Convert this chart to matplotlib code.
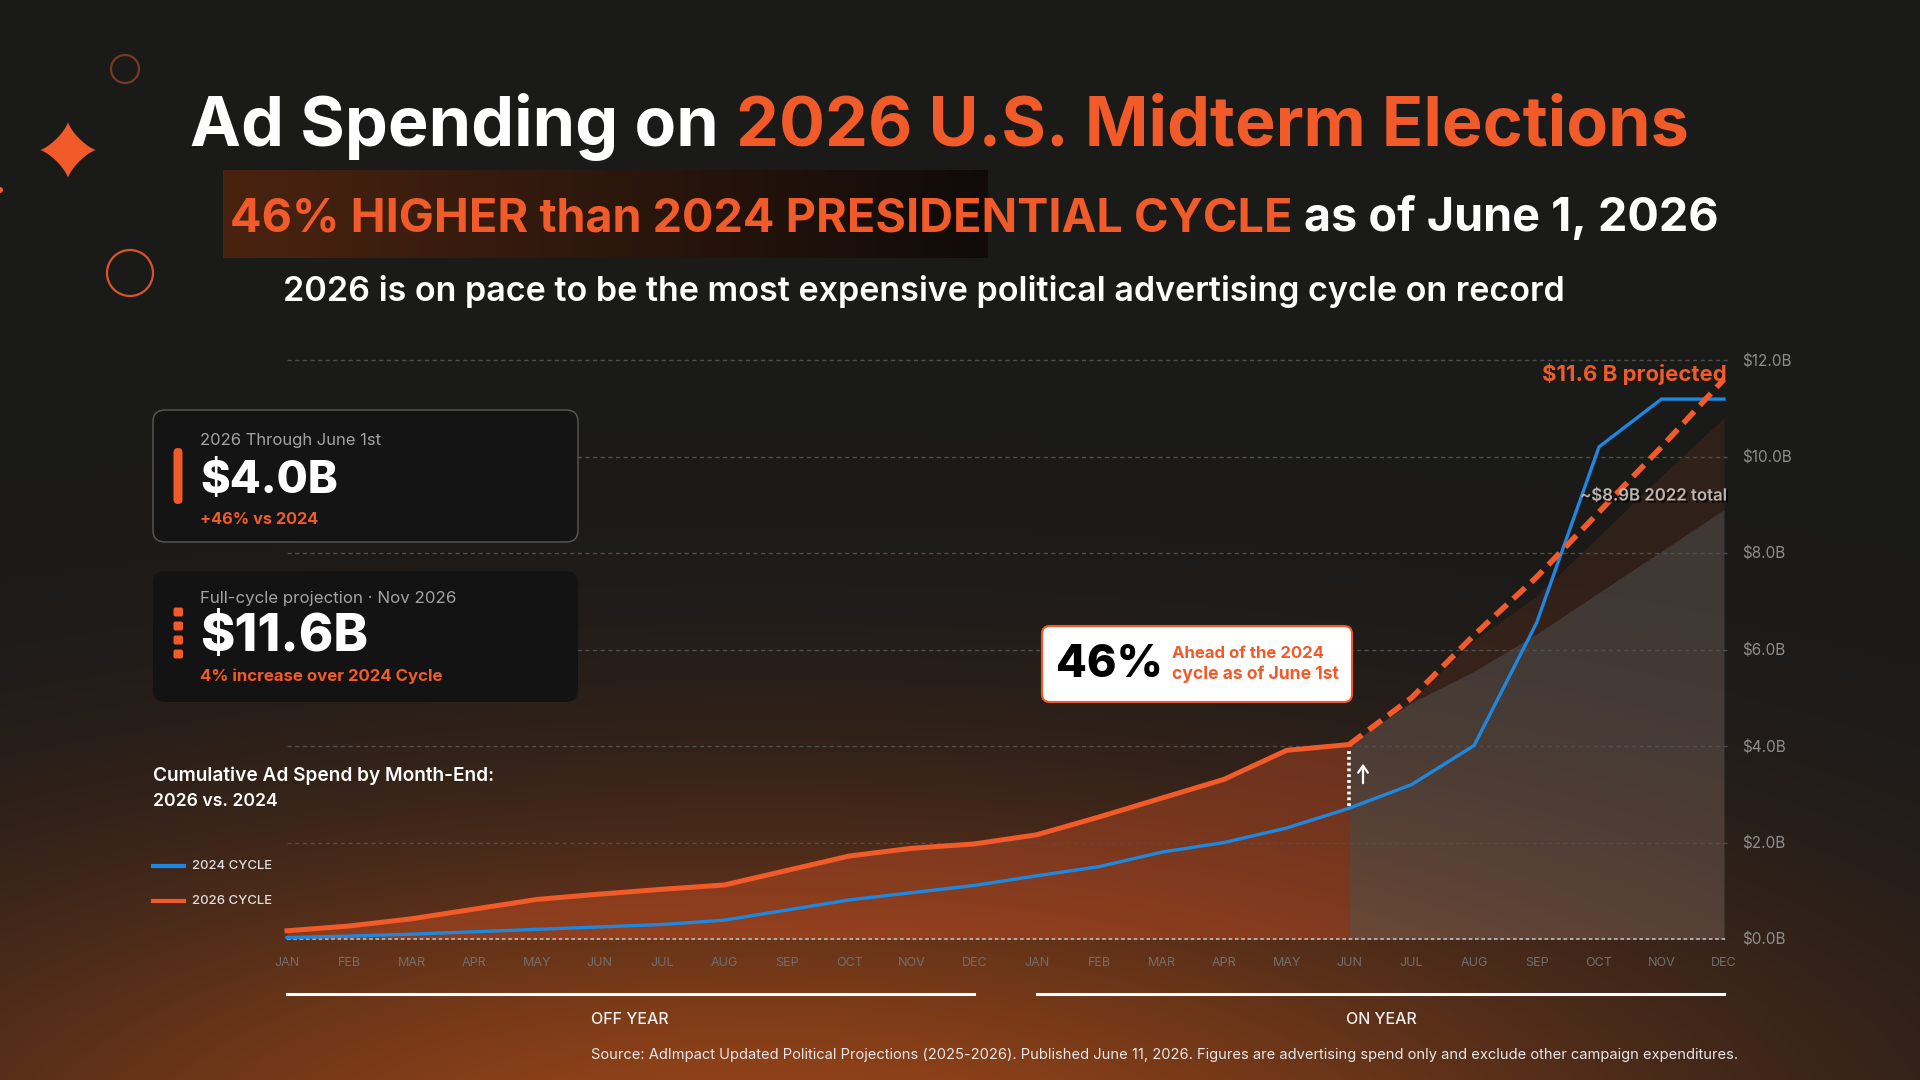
import numpy as np
import matplotlib
matplotlib.use('Agg')
import matplotlib.pyplot as plt
import matplotlib.patheffects as pe
from matplotlib.patches import FancyBboxPatch, Circle, Polygon

plt.rcParams['font.family'] = ['Inter', 'DejaVu Sans']

ORANGE = '#f15a29'
BLUE = '#1e88e0'

months = ['JAN', 'FEB', 'MAR', 'APR', 'MAY', 'JUN',
          'JUL', 'AUG', 'SEP', 'OCT', 'NOV', 'DEC'] * 2

# cumulative ad spend ($B) by month-end, Jan of off-year .. Dec of election year
cycle_2024 = [0.03, 0.06, 0.10, 0.15, 0.20, 0.25, 0.30, 0.39, 0.60, 0.81, 0.96, 1.11,
              1.31, 1.50, 1.80, 2.00, 2.30, 2.71, 3.20, 4.01, 6.55, 10.2, 11.19, 11.19]
# 2026 cycle actuals, Jan 2025 .. Jun 2026
cycle_2026 = [0.17, 0.27, 0.42, 0.62, 0.82, 0.93, 1.03, 1.12, 1.42, 1.72, 1.88, 1.97,
              2.16, 2.53, 2.92, 3.31, 3.91, 4.03]
# projection Jun .. Dec 2026
proj_2026 = [4.03, 5.0, 6.3, 7.5, 8.85, 10.2, 11.6]
band_low = [4.03, 4.9, 5.55, 6.32, 7.18, 8.04, 8.9]
band_high = [4.03, 4.95, 6.2, 7.1, 8.35, 9.6, 10.8]

yticks = [0, 2, 4, 6, 8, 10, 12]
ylabels = ['$%.1fB' % v for v in yticks]

W, H = 1920, 1080
fig = plt.figure(figsize=(19.2, 10.8), dpi=100)

# background with warm glow at the bottom
bg = fig.add_axes([0, 0, 1, 1], zorder=0)
yy, xx = np.mgrid[0:H, 0:W]
glow_w = np.exp(-(((xx - 760) / 950.0) ** 2 + ((yy - 1160) / 330.0) ** 2))[..., None]
base = np.array([26, 26, 26]) / 255.0
glow = np.array([150, 68, 24]) / 255.0
img = base * (1 - glow_w) + glow * glow_w
bg.imshow(img, extent=(0, W, H, 0), aspect='auto')
bg.axis('off')

# chart
ax = fig.add_axes([287 / W, 1 - 939 / H, (1724 - 287) / W, (939 - 360) / H], zorder=1)
ax.patch.set_alpha(0)
ax.set_xlim(0, 23)
ax.set_ylim(0, 12)
x = np.arange(24)
x26 = np.arange(len(cycle_2026))
xp = np.arange(17, 24)

ax.fill_between(x26, 0, cycle_2026, color=ORANGE, alpha=0.32, lw=0, zorder=1)
ax.fill_between(xp, 0, band_low, color='#ffd9c8', alpha=0.16, lw=0, zorder=1)
ax.fill_between(xp, band_low, band_high, color=ORANGE, alpha=0.1, lw=0, zorder=1)

for v in yticks[1:]:
    ax.hlines(v, 0, 23.05, color='#4e4e4e', lw=1, linestyles=(0, (3, 2.5)), zorder=2, clip_on=False)
ax.hlines(0, 0, 23.05, color='#b5b5b5', lw=1.3, linestyles=(0, (2, 1.5)), zorder=2, clip_on=False)

ax.plot(x, cycle_2024, color=BLUE, lw=2.4, zorder=4, clip_on=False)
ax.plot(x26, cycle_2026, color=ORANGE, lw=3.6, zorder=5, clip_on=False)
ax.plot(xp, proj_2026, color=ORANGE, lw=4, dashes=(2.9, 1.5), zorder=5, clip_on=False)
ax.plot([17, 17], [cycle_2024[17] + 0.05, cycle_2026[17] - 0.1], color='white', lw=2.6,
        dashes=(0.8, 0.8), zorder=6)

ax.set_xticks(x)
ax.set_xticklabels(months)
ax.tick_params(axis='x', length=0, pad=13, labelsize=9, labelcolor='#707070')
ax.yaxis.tick_right()
ax.set_yticks(yticks)
ax.set_yticklabels(ylabels)
ax.tick_params(axis='y', length=0, pad=13, labelsize=11, labelcolor='#8e8e8e')
for s in ax.spines.values():
    s.set_visible(False)

# overlay in pixel coordinates
ov = fig.add_axes([0, 0, 1, 1], zorder=3)
ov.axis('off')
renderer = fig.canvas.get_renderer()


def text_width(s, size, weight):
    t = ov.text(0, 0, s, fontsize=size, fontweight=weight)
    w = t.get_window_extent(renderer).width
    t.remove()
    return w


def row(x0, y0, parts, width, weight='bold', ha='left', size=20, **kw):
    gap = text_width('x x', size, weight) - text_width('xx', size, weight)
    widths = [text_width(s, size, weight) for s, c in parts]
    total = sum(widths) + gap * (len(parts) - 1)
    k = width / total
    cx = x0 - {'left': 0, 'center': width / 2, 'right': width}[ha]
    out = []
    for (s, c), w in zip(parts, widths):
        out.append(ov.text(cx, y0, s, color=c, fontsize=size * k, fontweight=weight,
                           va='center', ha='left', **kw))
        cx += (w + gap) * k
    return out


# subtitle highlight box
grad = np.linspace([74, 35, 16], [16, 11, 9], 256)[None, :, :] / 255.0
ov.imshow(grad, extent=(223, 988, 258, 170), aspect='auto', zorder=1)

# decorations
ov.add_patch(Circle((125, 69), 14, fill=False, ec='#7a3a22', lw=1.6))
ov.add_patch(Circle((130, 273), 23, fill=False, ec='#d9542a', lw=1.6))
ov.add_patch(Circle((0, 190), 3, fc=ORANGE, ec='none'))
t = np.linspace(0, 2 * np.pi, 200)
c, s = np.cos(t), np.sin(t)
star = np.column_stack([68 + 28 * np.sign(c) * np.abs(c) ** 2.6,
                        150 + 28 * np.sign(s) * np.abs(s) ** 2.6])
ov.add_patch(Polygon(star, closed=True, fc=ORANGE, ec='none'))

# headings
row(190, 127, [('Ad Spending on', 'white'), ('2026 U.S. Midterm Elections', ORANGE)], 1500)
row(230, 219, [('46% HIGHER than 2024 PRESIDENTIAL CYCLE', ORANGE),
               ('as of June 1, 2026', 'white')], 1490)
row(283, 292, [('2026 is on pace to be the most expensive political advertising cycle on record',
                'white')], 1286, weight='semibold')

# cards
ov.add_patch(FancyBboxPatch((153, 410), 425, 132, boxstyle='round,pad=0,rounding_size=12',
                            fc='#141414', ec='#5a5a5a', lw=1, zorder=2))
ov.add_patch(FancyBboxPatch((153, 571), 425, 131, boxstyle='round,pad=0,rounding_size=12',
                            fc='#131313', ec='none', zorder=2))
ov.add_patch(FancyBboxPatch((173.5, 448), 9, 56, boxstyle='round,pad=0,rounding_size=4.5',
                            fc=ORANGE, ec='none', zorder=3))
for cy in [612, 626, 640, 654]:
    ov.add_patch(FancyBboxPatch((173.5, cy - 4.5), 9.5, 9, boxstyle='round,pad=0,rounding_size=2',
                                fc=ORANGE, ec='none', zorder=3))

row(200, 440, [('2026 Through June 1st', '#a3a3a3')], 182, weight='normal', zorder=4)
row(200, 481, [('$4.0B', 'white')], 138, weight='heavy', zorder=4)
row(200, 519, [('+46% vs 2024', ORANGE)], 118, zorder=4)
row(200, 599, [('Full-cycle projection · Nov 2026', '#a3a3a3')], 257, weight='normal', zorder=4)
row(200, 638, [('$11.6B', 'white')], 168, weight='heavy', zorder=4)
row(200, 676, [('4% increase over 2024 Cycle', ORANGE)], 244, zorder=4)

# callout
ov.add_patch(FancyBboxPatch((1042, 626), 310, 76, boxstyle='round,pad=0,rounding_size=8',
                            fc='white', ec=ORANGE, lw=1.5, zorder=2))
row(1056, 665, [('46%', 'black')], 107, weight='heavy', zorder=4)
row(1172, 654, [('Ahead of the 2024', ORANGE)], 153, zorder=4)
row(1172, 674, [('cycle as of June 1st', ORANGE)], 167, zorder=4)
ov.annotate('', xy=(1363, 761), xytext=(1363, 786),
            arrowprops=dict(arrowstyle='->,head_length=0.5,head_width=0.35', color='white', lw=1.6))

# chart notes
row(1727, 374, [('$11.6 B projected', ORANGE)], 185, ha='right')
row(1727, 496, [('~$8.9B 2022 total', '#bdb5b0')], 147, weight='semibold', ha='right',
    path_effects=[pe.withSimplePatchShadow(offset=(1.5, -1.5), shadow_rgbFace='black', alpha=0.7)])

# left legend block
row(153, 776, [('Cumulative Ad Spend by Month-End:', 'white')], 342, weight='semibold')
row(153, 802, [('2026 vs. 2024', 'white')], 125, weight='semibold')
ov.plot([153, 184], [866, 866], color=BLUE, lw=3)
ov.plot([153, 184], [901, 901], color=ORANGE, lw=3)
row(192, 866, [('2024 CYCLE', '#e0e0e0')], 80, weight='medium')
row(192, 901, [('2026 CYCLE', '#e0e0e0')], 80, weight='medium')

# off year / on year
ov.plot([287, 974], [994, 994], color='white', lw=2.2)
ov.plot([1037, 1724], [994, 994], color='white', lw=2.2)
row(630, 1019, [('OFF YEAR', '#eeeeee')], 78, weight='medium', ha='center')
row(1381, 1019, [('ON YEAR', '#eeeeee')], 71, weight='medium', ha='center')

row(591, 1055, [('Source: AdImpact Updated Political Projections (2025-2026). Published June 11, 2026. '
                 'Figures are advertising spend only and exclude other campaign expenditures.',
                 '#e6e6e6')], 1148, weight='normal')

ov.set_xlim(0, W)
ov.set_ylim(H, 0)

fig.savefig('out.png', dpi=100)
